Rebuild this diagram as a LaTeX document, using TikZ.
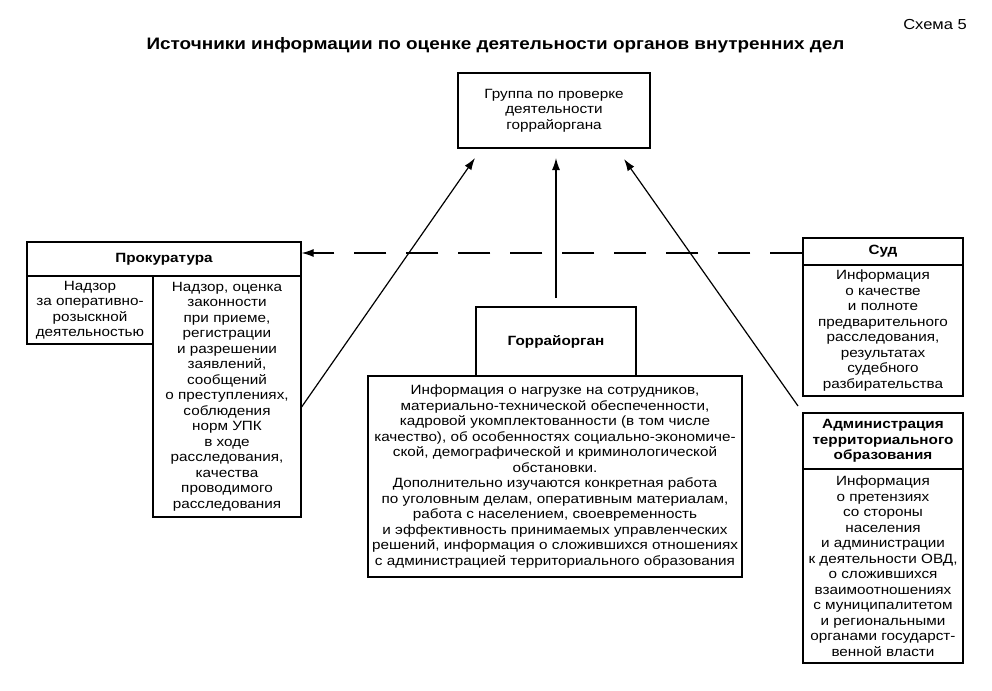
\documentclass[tikz,border=0pt]{standalone}
\usepackage{fontspec}
\setmainfont[FakeStretch=1.14]{Liberation Sans}
\usetikzlibrary{arrows.meta}
\newcommand{\bodyfont}{\fontsize{13.4}{15.5}\selectfont}
\newcommand{\titlefont}{\fontsize{16.6}{18}\selectfont\bfseries}
\tikzset{
  box/.style={draw, line width=1.2pt, inner sep=0pt, align=center, font=\bodyfont},
  hbox/.style={box, font=\bodyfont\bfseries},
  arr/.style={line width=1.2pt, -{Latex[length=12pt,width=8pt]}},
  darr/.style={arr, dash pattern=on 32pt off 20pt}
}
\begin{document}
\begin{tikzpicture}[x=1pt,y=-1pt]
\useasboundingbox (0,0) rectangle (992,690);
\node[anchor=east, inner sep=0pt, font=\fontsize{14.5}{16}\selectfont] (schema) at (967,25) {Схема 5};
\node[font=\titlefont, inner sep=0pt] (title) at (495.5,45) {Источники информации по оценке деятельности органов внутренних дел};

\node[box, minimum width=192pt, minimum height=75pt] (top) at (554,110.5)
  {Группа по проверке\\деятельности\\горрайоргана};

\node[hbox, minimum width=274pt, minimum height=34pt] (prokH) at (164,259) {Прокуратура};
\node[box, minimum width=126pt, minimum height=68pt] (prokL) at (90,310)
  {Надзор\\за оперативно-\\розыскной\\деятельностью};
\node[box, minimum width=148pt, minimum height=241pt] (prokR) at (227,396.5)
  {Надзор, оценка\\законности\\при приеме,\\регистрации\\и разрешении\\заявлений,\\сообщений\\о преступлениях,\\соблюдения\\норм УПК\\в ходе\\расследования,\\качества\\проводимого\\расследования};

\node[hbox, minimum width=160pt, minimum height=27pt] (sudH) at (883,251.5) {Суд};
\node[box, minimum width=160pt, minimum height=131pt] (sudB) at (883,330.5)
  {Информация\\о качестве\\и полноте\\предварительного\\расследования,\\результатах\\судебного\\разбирательства};

\node[hbox, minimum width=160pt, minimum height=56pt] (admH) at (883,441)
  {Администрация\\территориального\\образования};
\node[box, minimum width=160pt, minimum height=194pt] (admB) at (883,566)
  {Информация\\о претензиях\\со стороны\\населения\\и администрации\\к деятельности ОВД,\\о сложившихся\\взаимоотношениях\\с муниципалитетом\\и региональными\\органами государст-\\венной власти};

\node[hbox, minimum width=160pt, minimum height=69pt] (gorH) at (556,341.5) {Горрайорган};
\node[box, minimum width=374pt, minimum height=201pt] (gorB) at (555,476.5)
  {Информация о нагрузке на сотрудников,\\материально-технической обеспеченности,\\кадровой укомплектованности (в том числе\\качество), об особенностях социально-экономиче-\\ской, демографической и криминологической\\обстановки.\\Дополнительно изучаются конкретная работа\\по уголовным делам, оперативным материалам,\\работа с населением, своевременность\\и эффективность принимаемых управленческих\\решений, информация о сложившихся отношениях\\с администрацией территориального образования};

\coordinate (tL) at (475,158);
\coordinate (tC) at (556,158);
\coordinate (tR) at (624,159);
\coordinate (sC) at (556,298);
\coordinate (sL) at (prokR.east |- 0,407);
\coordinate (sR) at (798,406);
\coordinate (dS) at (sudH.west |- 0,253);
\coordinate (dP) at (prokH.east |- 0,253);

\draw[arr] (sC) -- (tC);
\draw[arr] (sL) -- (tL);
\draw[arr] (sR) -- (tR);
\draw[darr] (dS) -- (dP);
\end{tikzpicture}
\end{document}
